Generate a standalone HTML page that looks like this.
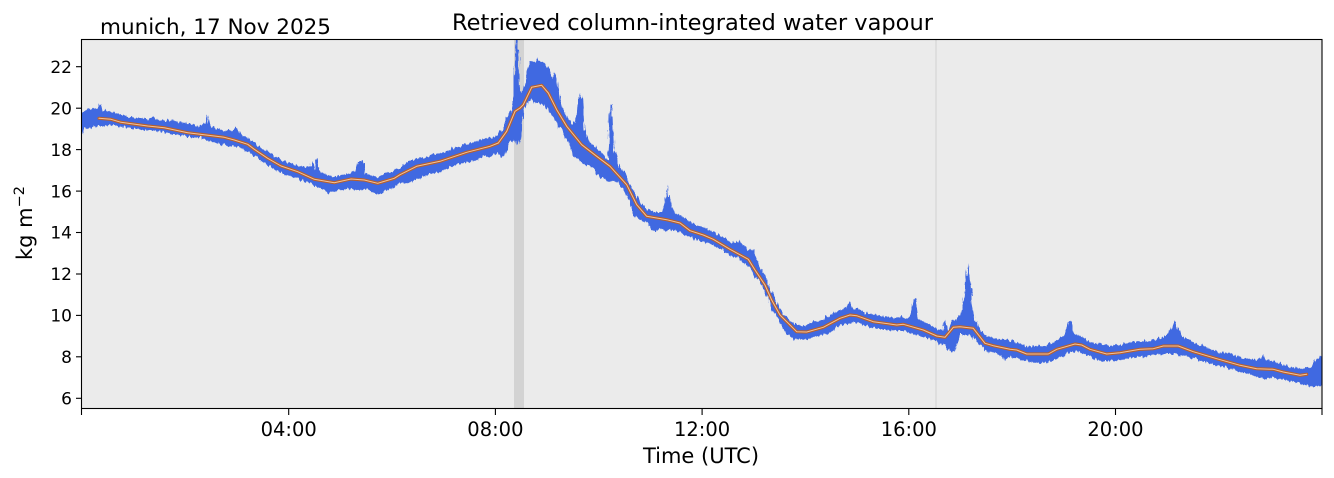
<!DOCTYPE html>
<html>
<head>
<meta charset="utf-8">
<style>
  html, body { margin: 0; padding: 0; background: #ffffff; }
  svg { display: block; }
  text { font-family: "DejaVu Sans", "Liberation Sans", sans-serif; fill: #000; }
</style>
</head>
<body>
<svg width="1334" height="478" viewBox="0 0 1334 478" xmlns="http://www.w3.org/2000/svg">
  <defs>
    <filter id="rough" x="-2%" y="-10%" width="104%" height="120%">
      <feTurbulence type="fractalNoise" baseFrequency="0.45 0.08" numOctaves="2" seed="3" result="n"/>
      <feDisplacementMap in="SourceGraphic" in2="n" scale="6" xChannelSelector="R" yChannelSelector="G"/>
    </filter>
    <clipPath id="ax"><rect x="81.5" y="39.5" width="1240.5" height="369"/></clipPath>
  </defs>
  <rect x="0" y="0" width="1334" height="478" fill="#ffffff"/>
  <!-- axes background -->
  <rect x="81.5" y="39.5" width="1240.5" height="369" fill="#ebebeb"/>
  <!-- gray band -->
  <rect x="514" y="39.5" width="10" height="369" fill="#d3d3d3"/>
  <!-- thin vertical line -->
  <line x1="936" y1="39.5" x2="936" y2="408.5" stroke="#d0d0d0" stroke-width="1"/>

  <!-- blue noisy data band -->
  <g clip-path="url(#ax)">
  <polygon fill="#4169e1" filter="url(#rough)" points="
81,114 86,110 92,109 97,108 100,104 102,110 108,111 115,113 121,115 130,117 140,118 148,119 155,117 160,120 170,121 180,122 190,124 200,126 205,123 207,115 209,124 214,128 224,130 232,131 236,127 240,133 248,138 254,142 262,149 268,152 275,157 281,160 290,163 297,165 305,168 311,166 312,161 314,169 316,160 318,158 320,172 327,175 334,177 342,175 351,173 356,170 358,161 363,161 365,173 372,176 378,178 385,173 394,171 400,167 408,161 416,159 425,157 433,155 440,154 450,150 460,146 467,144 475,142 483,139 490,138 495,137 498,135 503,128 507,119 511,110 514,95 515,60 516,38 518,38 519,60 520,90 522,93 525,80 528,68 530,61 535,62 538,59 542,62 546,66 550,70 553,80 555,71 557,85 560,100 564,110 568,118 572,124 576,122 578,100 580,93 582,95 584,130 590,142 596,148 603,155 608,160 610,105 612,104 614,150 620,168 626,174 632,188 637,196 642,205 648,210 655,212 662,212 666,198 668,185 670,200 675,214 682,216 690,222 696,225 703,227 710,231 718,235 725,238 730,241 735,243 740,240 743,245 748,250 752,249 754,251 757,260 762,270 766,278 770,290 774,296 778,303 784,315 790,320 797,325 805,326 812,322 820,321 826,317 832,314 840,310 846,308 850,302 853,309 858,309 864,312 870,314 878,315 886,317 896,318 903,317 910,318 914,300 916,298 918,318 925,322 932,326 937,329 942,330 945,320 947,330 953,320 960,318 964,300 966,275 968,263 970,275 972,305 975,320 980,330 985,335 993,338 1000,339 1008,340 1016,342 1022,345 1030,347 1040,346 1048,345 1055,341 1062,337 1066,332 1069,322 1071,320 1073,332 1078,336 1082,337 1088,340 1095,343 1102,345 1110,346 1120,345 1130,342 1140,341 1150,340 1160,338 1166,336 1170,330 1174,324 1175,321 1177,328 1180,334 1185,338 1193,342 1200,345 1210,349 1220,352 1230,354 1240,357 1250,360 1258,360 1262,354 1264,353 1266,360 1275,362 1283,364 1290,367 1300,369 1307,368 1312,366 1316,360 1319,356 1322,355
1322,386 1318,386 1312,387 1306,385 1300,383 1290,381 1283,380 1275,378 1268,377 1264,380 1262,377 1255,376 1245,373 1235,370 1225,367 1215,365 1205,362 1195,359 1185,356 1175,354 1163,354 1150,356 1140,357 1130,358 1120,360 1110,361 1100,361 1090,357 1080,352 1070,352 1060,357 1050,362 1040,363 1030,362 1020,359 1010,357 1005,360 998,354 990,352 985,350 978,343 972,336 966,335 960,335 955,350 950,352 945,345 938,343 930,339 920,336 912,333 904,331 896,331 886,330 876,329 866,326 856,322 848,324 840,325 830,333 822,335 814,337 806,340 800,339 795,340 788,335 782,326 776,318 772,308 768,298 764,290 759,280 755,277 750,267 745,264 738,258 730,256 722,250 715,246 708,243 700,241 692,238 686,235 676,231 667,230 660,229 653,231 647,222 640,220 633,215 627,195 622,188 616,180 612,182 606,180 600,178 592,168 585,164 578,160 573,155 567,140 562,132 556,121 550,113 546,108 542,103 536,104 532,99 528,102 524,110 520,140 518,145 516,146 514,140 510,142 506,155 502,157 498,152 494,154 490,156 484,156 478,160 470,162 462,163 455,165 448,168 440,172 432,173 425,176 418,178 410,181 403,183 400,183 395,187 388,190 380,193 375,194 370,190 364,189 358,191 350,188 342,190 335,192 328,193 322,189 316,187 310,183 302,180 295,178 288,176 280,172 272,168 265,164 258,158 252,154 246,151 240,147 232,146 224,145 215,143 208,141 200,137 192,138 185,136 178,135 170,133 160,132 150,131 140,129 132,128 125,127 118,126 111,125 104,126 98,126 92,127 88,129 85,128 82,133 81,131"/>
  </g>

  <!-- smoothed orange line -->
  <g fill="none" stroke-linejoin="round" stroke-linecap="round">
    <polyline stroke="#b8602c" stroke-width="3.2" points="99,118.3 111,119.3 121,122.3 147.7,126 164.3,127.7 187.7,132.7 214.3,136 224.3,137.3 234.3,140 247.7,144.3 254.3,149.3 267.7,158.3 281,166 297.7,171.7 314.3,179.3 334.3,182.7 351,179 364.3,180 377.7,183.3 394.3,178.3 400,174.7 416.7,166.3 440,161.3 466.7,152.3 490,146.3 498.3,143 506.7,131.3 515,111.3 520,108 523.3,104.7 531.7,87.3 541.7,85.3 548.3,93 556.7,109.7 566.7,126.3 581.7,144.7 596.7,156.3 610,166.3 626.7,184.7 636.7,204.7 646.7,216.3 666.7,219.7 680,223 690,230.7 703.3,235 713.3,239.3 730,249.3 748.3,259.3 755,270 765,285 771.7,300 780,315 796.7,331.7 806.7,332 823.3,327.3 840,318.3 850,315 856.7,315.7 873.3,321.7 896.7,325 903.3,324.3 923.3,330 936.7,336 945,337.3 953.3,327.3 960,326.7 973.3,328.3 985,343.3 993.3,345.7 1010,349.3 1016.7,350 1026.7,354 1048.3,354 1056.7,349.3 1075,344 1081.7,345 1090,349.3 1106.7,354 1120,352.7 1140,349.3 1153.3,348.7 1163.3,346 1178.3,346 1193.3,351.7 1216.7,358.7 1240,365.3 1256.7,368.7 1273.3,369.3 1283.3,372 1300,375.3 1306.7,374.3"/>
    <polyline stroke="#f0c29c" stroke-width="1" points="99,118.3 111,119.3 121,122.3 147.7,126 164.3,127.7 187.7,132.7 214.3,136 224.3,137.3 234.3,140 247.7,144.3 254.3,149.3 267.7,158.3 281,166 297.7,171.7 314.3,179.3 334.3,182.7 351,179 364.3,180 377.7,183.3 394.3,178.3 400,174.7 416.7,166.3 440,161.3 466.7,152.3 490,146.3 498.3,143 506.7,131.3 515,111.3 520,108 523.3,104.7 531.7,87.3 541.7,85.3 548.3,93 556.7,109.7 566.7,126.3 581.7,144.7 596.7,156.3 610,166.3 626.7,184.7 636.7,204.7 646.7,216.3 666.7,219.7 680,223 690,230.7 703.3,235 713.3,239.3 730,249.3 748.3,259.3 755,270 765,285 771.7,300 780,315 796.7,331.7 806.7,332 823.3,327.3 840,318.3 850,315 856.7,315.7 873.3,321.7 896.7,325 903.3,324.3 923.3,330 936.7,336 945,337.3 953.3,327.3 960,326.7 973.3,328.3 985,343.3 993.3,345.7 1010,349.3 1016.7,350 1026.7,354 1048.3,354 1056.7,349.3 1075,344 1081.7,345 1090,349.3 1106.7,354 1120,352.7 1140,349.3 1153.3,348.7 1163.3,346 1178.3,346 1193.3,351.7 1216.7,358.7 1240,365.3 1256.7,368.7 1273.3,369.3 1283.3,372 1300,375.3 1306.7,374.3"/>
  </g>

  <!-- spines -->
  <rect x="81.5" y="39.5" width="1240.5" height="369" fill="none" stroke="#000" stroke-width="1.1"/>

  <!-- y ticks -->
  <g stroke="#000" stroke-width="1.1">
    <line x1="76" y1="398.3" x2="81.5" y2="398.3"/>
    <line x1="76" y1="356.8" x2="81.5" y2="356.8"/>
    <line x1="76" y1="315.4" x2="81.5" y2="315.4"/>
    <line x1="76" y1="274.0" x2="81.5" y2="274.0"/>
    <line x1="76" y1="232.5" x2="81.5" y2="232.5"/>
    <line x1="76" y1="191.1" x2="81.5" y2="191.1"/>
    <line x1="76" y1="149.6" x2="81.5" y2="149.6"/>
    <line x1="76" y1="108.2" x2="81.5" y2="108.2"/>
    <line x1="76" y1="66.7" x2="81.5" y2="66.7"/>
  </g>
  <g font-size="17" text-anchor="end">
    <text x="72" y="404.5">6</text>
    <text x="72" y="363">8</text>
    <text x="72" y="321.6">10</text>
    <text x="72" y="280.2">12</text>
    <text x="72" y="238.7">14</text>
    <text x="72" y="197.3">16</text>
    <text x="72" y="155.8">18</text>
    <text x="72" y="114.4">20</text>
    <text x="72" y="72.9">22</text>
  </g>

  <!-- x ticks -->
  <g stroke="#000" stroke-width="1.1">
    <line x1="81.5" y1="408.5" x2="81.5" y2="415"/>
    <line x1="288.7" y1="408.5" x2="288.7" y2="415"/>
    <line x1="495.4" y1="408.5" x2="495.4" y2="415"/>
    <line x1="702.1" y1="408.5" x2="702.1" y2="415"/>
    <line x1="908.8" y1="408.5" x2="908.8" y2="415"/>
    <line x1="1115.5" y1="408.5" x2="1115.5" y2="415"/>
    <line x1="1322" y1="408.5" x2="1322" y2="415"/>
  </g>
  <g font-size="19.5" text-anchor="middle">
    <text x="288.7" y="436">04:00</text>
    <text x="495.4" y="436">08:00</text>
    <text x="702.1" y="436">12:00</text>
    <text x="908.8" y="436">16:00</text>
    <text x="1115.5" y="436">20:00</text>
  </g>

  <!-- axis labels -->
  <text x="701" y="463" font-size="21" text-anchor="middle">Time (UTC)</text>
  <text transform="translate(32,260) rotate(-90)" font-size="21">kg m<tspan font-size="14.5" dy="-8">−2</tspan></text>

  <!-- titles -->
  <text x="452" y="30" font-size="22" textLength="481" lengthAdjust="spacingAndGlyphs">Retrieved column-integrated water vapour</text>
  <text x="100" y="34" font-size="21.5" textLength="231" lengthAdjust="spacingAndGlyphs">munich, 17 Nov 2025</text>
</svg>
</body>
</html>
